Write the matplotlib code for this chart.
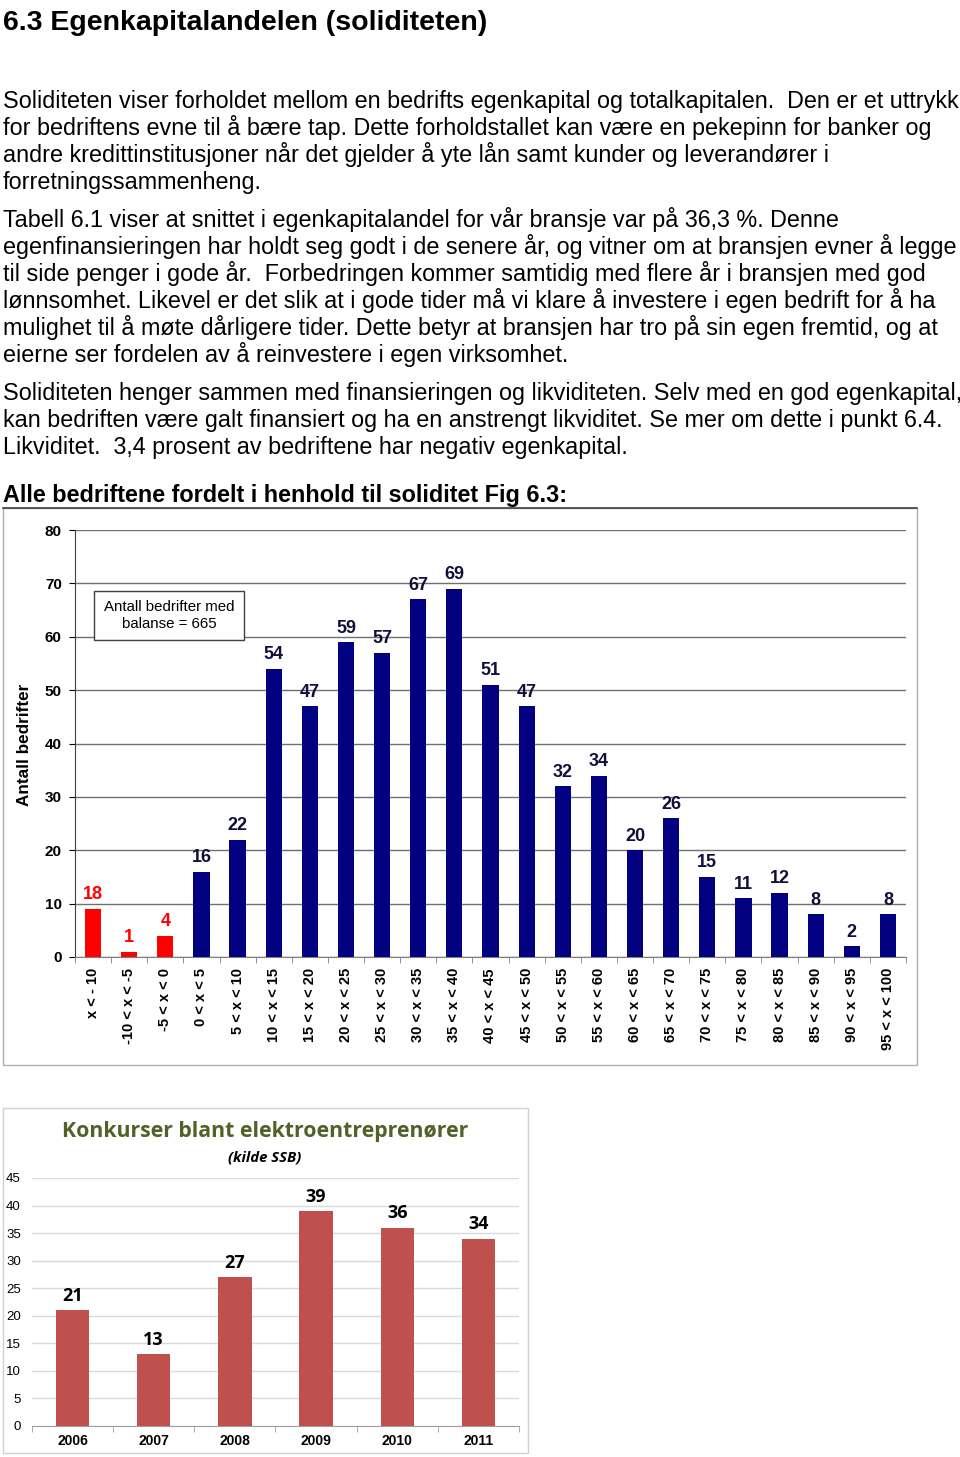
import numpy as np
import matplotlib
matplotlib.use("Agg")
import matplotlib.pyplot as plt
from matplotlib.patches import Rectangle
from matplotlib.lines import Line2D

W, H = 960, 1457

# --- data ---
soliditet_cats = ["x < - 10", "-10 < x < -5", "-5 < x < 0", "0 < x < 5", "5 < x < 10",
                  "10 < x < 15", "15 < x < 20", "20 < x < 25", "25 < x < 30", "30 < x < 35",
                  "35 < x < 40", "40 < x < 45", "45 < x < 50", "50 < x < 55", "55 < x < 60",
                  "60 < x < 65", "65 < x < 70", "70 < x < 75", "75 < x < 80", "80 < x < 85",
                  "85 < x < 90", "90 < x < 95", "95 < x < 100"]
soliditet_heights = [9, 1, 4, 16, 22, 54, 47, 59, 57, 67, 69, 51, 47, 32, 34, 20, 26, 15, 11, 12, 8, 2, 8]
soliditet_labels = ["18", "1", "4", "16", "22", "54", "47", "59", "57", "67", "69", "51", "47",
                    "32", "34", "20", "26", "15", "11", "12", "8", "2", "8"]
n_negative = 3

years = ["2006", "2007", "2008", "2009", "2010", "2011"]
konkurser = [21, 13, 27, 39, 36, 34]

title = "6.3 Egenkapitalandelen (soliditeten)"
paragraphs = [
    ["Soliditeten viser forholdet mellom en bedrifts egenkapital og totalkapitalen.  Den er et uttrykk",
     "for bedriftens evne til å bære tap. Dette forholdstallet kan være en pekepinn for banker og",
     "andre kredittinstitusjoner når det gjelder å yte lån samt kunder og leverandører i",
     "forretningssammenheng."],
    ["Tabell 6.1 viser at snittet i egenkapitalandel for vår bransje var på 36,3 %. Denne",
     "egenfinansieringen har holdt seg godt i de senere år, og vitner om at bransjen evner å legge",
     "til side penger i gode år.  Forbedringen kommer samtidig med flere år i bransjen med god",
     "lønnsomhet. Likevel er det slik at i gode tider må vi klare å investere i egen bedrift for å ha",
     "mulighet til å møte dårligere tider. Dette betyr at bransjen har tro på sin egen fremtid, og at",
     "eierne ser fordelen av å reinvestere i egen virksomhet."],
    ["Soliditeten henger sammen med finansieringen og likviditeten. Selv med en god egenkapital,",
     "kan bedriften være galt finansiert og ha en anstrengt likviditet. Se mer om dette i punkt 6.4.",
     "Likviditet.  3,4 prosent av bedriftene har negativ egenkapital."],
]
para_start = [108, 227, 400]
heading = "Alle bedriftene fordelt i henhold til soliditet Fig 6.3:"

plt.rcParams['font.family'] = ['Liberation Sans', 'DejaVu Sans']


def px(x, y):
    return x / W, 1 - y / H


def box(l, t, r, b):
    return [l / W, 1 - b / H, (r - l) / W, (b - t) / H]


fig = plt.figure(figsize=(W / 100, H / 100), dpi=100)

# --- text part ---
fig.text(*px(3, 30), title, fontsize=20.5, fontweight='bold', va='baseline')
for lines, y0 in zip(paragraphs, para_start):
    for i, line in enumerate(lines):
        fig.text(*px(3, y0 + 27 * i), line, fontsize=16.8, va='baseline')
fig.text(*px(3, 502), heading, fontsize=16.8, fontweight='bold', va='baseline')

# --- chart 1 frame ---
fig.add_artist(Rectangle(px(3, 1065), 914 / W, 557 / H, transform=fig.transFigure,
                         fill=False, ec='#b0b0b0', lw=1))
fig.add_artist(Line2D([3 / W, 917 / W], [1 - 508 / H] * 2, transform=fig.transFigure,
                      color='#404040', lw=1.2))

ax = fig.add_axes(box(75, 530, 906, 957))
x = np.arange(len(soliditet_cats))
colors = ['#ff0000'] * n_negative + ['#000080'] * (len(x) - n_negative)
ax.bar(x, soliditet_heights, width=0.45, color=colors, zorder=3)
for i, (h, lab) in enumerate(zip(soliditet_heights, soliditet_labels)):
    ax.annotate(lab, (i, h), xytext=(0, 4), textcoords='offset points', ha='center',
                va='bottom', fontsize=13, fontweight='bold',
                color='#ff0000' if i < n_negative else '#10103a')
ax.set_xlim(-0.5, len(x) - 0.5)
ax.set_ylim(0, 80)
ax.set_yticks(range(0, 81, 10))
ax.yaxis.grid(True, color='#707070', lw=1)
ax.set_axisbelow(True)
ax.set_xticks(x)
ax.set_xticklabels(soliditet_cats, rotation=90, fontsize=10.5, fontweight='bold')
ax.set_xticks(np.arange(-0.5, len(x)), minor=True)
ax.tick_params(axis='x', which='major', length=0, pad=8)
ax.tick_params(axis='x', which='minor', length=4, color='#808080')
ax.tick_params(axis='y', length=4, pad=5.5, labelsize=11)
for t in ax.get_yticklabels():
    t.set_fontweight('bold')
for s in ['top', 'right']:
    ax.spines[s].set_visible(False)
ax.spines['left'].set_color('#404040')
ax.spines['bottom'].set_color('#808080')
ax.text(0.113, 0.80, "Antall bedrifter med\nbalanse = 665", transform=ax.transAxes,
        ha='center', va='center', fontsize=10.8, linespacing=1.2,
        bbox=dict(boxstyle='square,pad=0.65', fc='white', ec='#404040', lw=1), zorder=5)
fig.text(*px(25, 745), "Antall bedrifter", rotation=90, ha='center', va='center',
         fontsize=12.3, fontweight='bold')

# --- chart 2 ---
fig.add_artist(Rectangle(px(3, 1453), 525 / W, 345 / H, transform=fig.transFigure,
                         fill=False, ec='#d0d0d0', lw=1))
ax2 = fig.add_axes(box(32, 1178, 519, 1426))
x2 = np.arange(len(years))
ax2.bar(x2, konkurser, width=0.41, color='#c0504d', zorder=3)
for i, v in enumerate(konkurser):
    ax2.annotate(str(v), (i, v), xytext=(0, 4), textcoords='offset points', ha='center',
                 va='bottom', fontsize=13, fontweight='bold', family=['Open Sans', 'DejaVu Sans'])
ax2.set_xlim(-0.5, len(years) - 0.5)
ax2.set_ylim(0, 45)
ax2.set_yticks(range(0, 46, 5))
ax2.yaxis.grid(True, color='#d9d9d9', lw=1)
ax2.set_axisbelow(True)
ax2.set_xticks(x2)
ax2.set_xticklabels(years, fontsize=10, fontweight='bold')
ax2.set_xticks(np.arange(-0.5, len(years)), minor=True)
ax2.tick_params(axis='x', which='major', length=0, pad=6)
ax2.tick_params(axis='x', which='minor', length=4, color='#a0a0a0')
ax2.tick_params(axis='y', length=0, pad=8, labelsize=9.5)
for s in ['top', 'right', 'left']:
    ax2.spines[s].set_visible(False)
ax2.spines['bottom'].set_color('#a0a0a0')
fig.text(*px(265, 1131), "Konkurser blant elektroentreprenører", ha='center', va='center',
         fontsize=15.3, fontweight='bold', color='#4f6228', family=['Open Sans', 'DejaVu Sans'])
fig.text(*px(265, 1157), "(kilde SSB)", ha='center', va='center', fontsize=10.7,
         fontweight='bold', style='italic', family=['Open Sans', 'DejaVu Sans'])

fig.savefig("out.png", dpi=100)
